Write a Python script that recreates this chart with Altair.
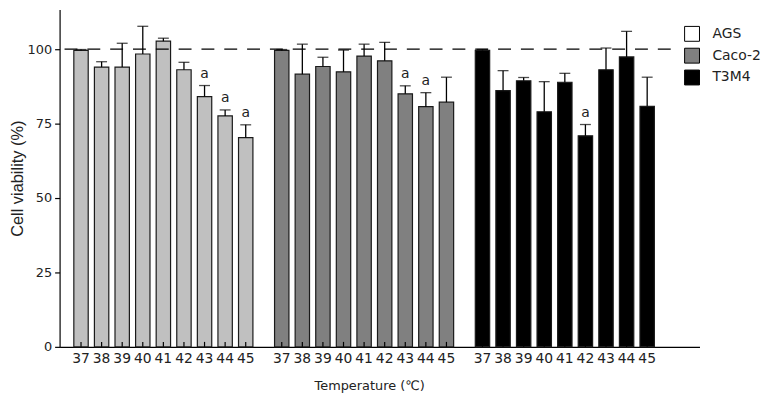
import altair as alt
import pandas as pd

temps = [37, 38, 39, 40, 41, 42, 43, 44, 45]
groups = ["AGS", "Caco-2", "T3M4"]
bar_colors = ["#c0c0c0", "#808080", "#000000"]
legend_colors = ["#ffffff", "#808080", "#000000"]

ags_mean = [99.6, 94.0, 94.0, 98.4, 102.7, 93.1, 84.1, 77.6, 70.3]
ags_err = [0.3, 1.8, 8.0, 9.3, 1.0, 2.5, 3.7, 2.0, 4.3]
ags_sig = ["", "", "", "", "", "", "a", "a", "a"]

caco_mean = [99.6, 91.6, 94.2, 92.4, 97.7, 96.1, 85.0, 80.7, 82.2]
caco_err = [0.3, 10.1, 3.1, 7.3, 4.0, 6.2, 2.7, 4.7, 8.4]
caco_sig = ["", "", "", "", "", "", "a", "a", ""]

t3m4_mean = [99.6, 86.1, 89.4, 79.0, 88.9, 70.9, 93.1, 97.4, 80.8]
t3m4_err = [0.3, 6.7, 1.1, 10.1, 3.0, 3.8, 7.3, 8.6, 9.8]
t3m4_sig = ["", "", "", "", "", "a", "", "", ""]

group_step = 9.75  # slot offset between the three groups

rows = []
for gi, (g, m, e, s) in enumerate(zip(groups,
                                       [ags_mean, caco_mean, t3m4_mean],
                                       [ags_err, caco_err, t3m4_err],
                                       [ags_sig, caco_sig, t3m4_sig])):
    for i, t in enumerate(temps):
        rows.append({"group": g, "temp": str(t), "pos": gi * group_step + i,
                     "mean": m[i], "top": m[i] + e[i], "sig": s[i]})
df = pd.DataFrame(rows)
legend_df = pd.DataFrame({"group": groups, "idx": list(range(len(groups)))})

FONT = "DejaVu Sans"
W, H = 645, 340
xscale = alt.Scale(domain=[-0.8, 29.8], nice=False, zero=False)
yscale = alt.Scale(domain=[0, 113.33], nice=False)

base = alt.Chart(df)

bars = base.mark_bar(size=14.5, stroke="#1a1a1a", strokeWidth=1.2).encode(
    x=alt.X("pos:Q", scale=xscale,
            axis=alt.Axis(labels=False, title="Temperature (℃)", ticks=False,
                          grid=False, domainColor="black", domainWidth=1.2,
                          titleFont=FONT, titleFontSize=13, titleFontWeight="normal",
                          titleColor="#222", titlePadding=33, titleX=312)),
    y=alt.Y("mean:Q", scale=yscale,
            axis=alt.Axis(values=[0, 25, 50, 75, 100], title="Cell viability (%)",
                          grid=False, domainColor="black", domainWidth=1.2,
                          tickColor="black", tickSize=5, tickWidth=1.2,
                          labelFont=FONT, labelFontSize=13, labelColor="#222",
                          labelPadding=3,
                          titleFont="Liberation Sans", titleFontSize=16.5,
                          titleFontWeight="normal", titleColor="#222",
                          titlePadding=2)),
    fill=alt.Fill("group:N", scale=alt.Scale(domain=groups, range=bar_colors),
                  legend=None),
)

xlabels = base.mark_text(baseline="top", font=FONT, fontSize=14,
                         color="#222").encode(
    x="pos:Q", y=alt.value(H + 5), text="temp:N")

err_line = base.mark_rule(color="black", strokeWidth=1.3).encode(
    x="pos:Q", y="mean:Q", y2="top:Q")
err_cap = base.mark_tick(color="black", orient="horizontal", size=11,
                         thickness=1.3).encode(x="pos:Q", y="top:Q")

inner_ticks = base.mark_rule(color="black", strokeWidth=1.2).encode(
    x="pos:Q", y=alt.value(H), y2=alt.value(H - 5))

sig_text = base.transform_filter("datum.sig != ''").mark_text(
    baseline="bottom", dy=-5, font=FONT, fontSize=14, color="#222").encode(
    x="pos:Q", y="top:Q", text="sig:N")

ref = alt.Chart(pd.DataFrame({"ref": [100]})).mark_rule(
    color="black", strokeWidth=1.2, strokeDash=[13, 10]).encode(
    y="ref:Q", x=alt.value(5), x2=alt.value(625))

main = alt.layer(bars, inner_ticks, err_line, err_cap, sig_text, ref, xlabels)

# legend drawn as marks (white box for AGS as in the original figure)
leg_y = alt.Y("idx:Q", scale=alt.Scale(domain=[0, 1], range=[24.5, 46.5]),
              axis=None)
leg_base = alt.Chart(legend_df)
leg_sq = leg_base.mark_square(size=225, filled=True, stroke="black",
                              strokeWidth=1, opacity=1).encode(
    x=alt.value(637.5), y=leg_y,
    color=alt.Color("group:N", scale=alt.Scale(domain=groups,
                    range=legend_colors), legend=None))
leg_txt = leg_base.mark_text(align="left", baseline="middle", font=FONT,
                             fontSize=14, color="#222").encode(
    x=alt.value(658), y=leg_y, text="group:N")
legend = alt.layer(leg_sq, leg_txt)

chart = alt.layer(main, legend).resolve_scale(y="independent").properties(
    width=W, height=H,
    autosize=alt.AutoSizeParams(type="none"),
    padding={"left": 52, "top": 0, "right": 62, "bottom": 50},
).configure_view(stroke=None)

chart.save("out.html", embed_options={"renderer": "svg", "actions": False})
